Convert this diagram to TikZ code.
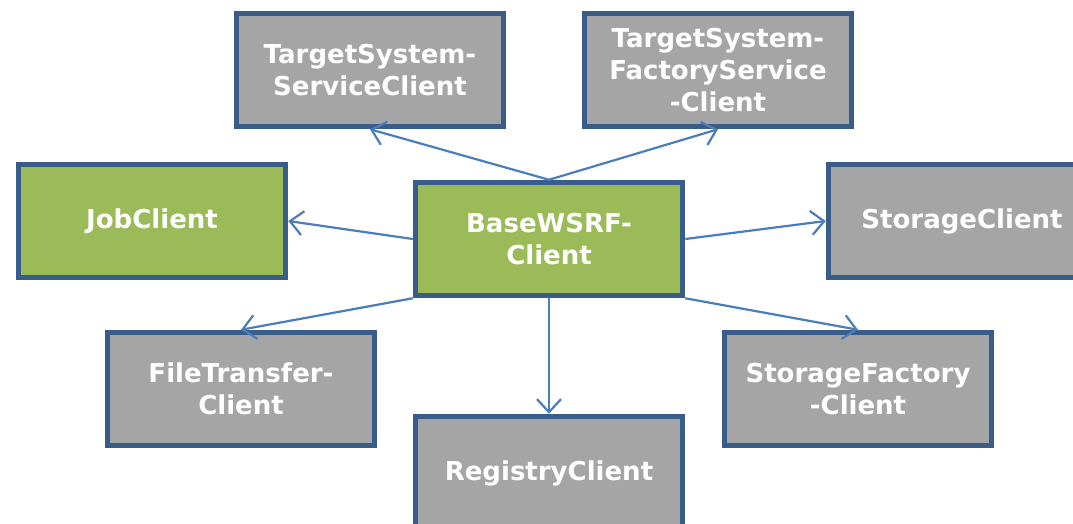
\documentclass[tikz,border=0pt]{standalone}
\usepackage{fontspec}
\setmainfont{DejaVu Sans}
\usetikzlibrary{arrows.meta}
\definecolor{boxgray}{HTML}{A5A5A5}
\definecolor{boxgreen}{HTML}{9BBB59}
\definecolor{boxline}{HTML}{385D8A}
\definecolor{arrowblue}{HTML}{4A7EBB}
\tikzset{
	clientbox/.style={draw=boxline,line width=5.5pt,fill=boxgray,text=white,
		minimum width=267pt,minimum height=113pt,inner sep=0pt,align=center,
		font=\fontsize{26}{32}\selectfont\bfseries},
	basebox/.style={clientbox,fill=boxgreen},
	conn/.style={draw=arrowblue,line width=2.2pt,
		-{Straight Barb[length=13pt,width=24pt]}}
}
\begin{document}
\begin{tikzpicture}[x=1pt,y=-1pt]
				\useasboundingbox (0,0) rectangle (1073,523);
				\clip (0,0) rectangle (1073,523);
				\node[basebox] (base) at (549,239) {BaseWSRF-\\Client};
				\node[clientbox] (tss) at (370,70) {TargetSystem-\\ServiceClient};
				\node[clientbox] (tsf) at (718,70) {TargetSystem-\\FactoryService\\-Client};
				\node[basebox] (job) at (152,221) {JobClient};
				\node[clientbox] (stor) at (962,221) {StorageClient};
				\node[clientbox] (ft) at (241,389) {FileTransfer-\\Client};
				\node[clientbox] (sf) at (858,389) {StorageFactory\\-Client};
				\node[clientbox] (reg) at (549,473) {RegistryClient};
				\draw[conn] (base.north) -- (tss.south);
				\draw[conn] (base.north) -- (tsf.south);
				\draw[conn] (base.west) -- (job.east);
				\draw[conn] (base.east) -- (stor.west);
				\draw[conn] (base.south west) -- (ft.north);
				\draw[conn] (base.south) -- (reg.north);
				\draw[conn] (base.south east) -- (sf.north);
			\end{tikzpicture}
\end{document}
